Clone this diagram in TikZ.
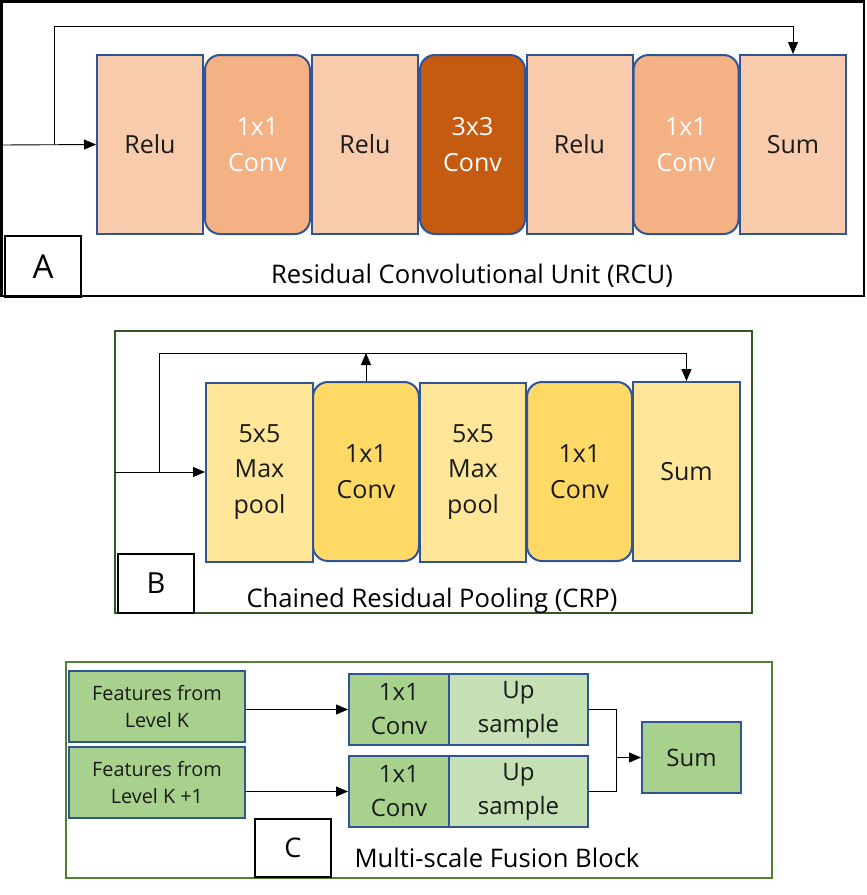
\documentclass[tikz,border=0pt]{standalone}
\usepackage{fontspec}
\setmainfont{Open Sans}
\usetikzlibrary{arrows.meta,calc}
\definecolor{bord}{HTML}{2F5597}
\definecolor{peachL}{HTML}{F8CBAD}
\definecolor{peachM}{HTML}{F4B183}
\definecolor{peachD}{HTML}{C55A11}
\definecolor{yelL}{HTML}{FFE699}
\definecolor{yelM}{HTML}{FFD966}
\definecolor{grnM}{HTML}{A9D18E}
\definecolor{grnL}{HTML}{C5E0B4}
\definecolor{grnB}{HTML}{375623}
\definecolor{grnC}{HTML}{548235}
\definecolor{txt}{HTML}{1A1A1A}
\tikzset{
  blk/.style={draw=bord, line width=2pt, inner sep=0pt, align=center, text=txt,
    font=\fontsize{25}{35.5}\selectfont},
  sq/.style={blk, rectangle},
  rnd/.style={blk, rounded corners=15pt},
  colA/.style={minimum width=105pt, minimum height=179pt},
  colB/.style={minimum width=106pt, minimum height=179pt},
  cbox/.style={blk, minimum height=71pt, font=\fontsize{24}{34}\selectfont},
  arr/.style={draw=black, line width=0.9pt, -{Triangle[length=12pt,width=10pt]}},
  ln/.style={draw=black, line width=0.9pt},
  lbl/.style={draw=black, line width=2pt, inner sep=0pt},
  captext/.style={font=\fontsize{25.6}{30}\selectfont, text=black}
}
\begin{document}
\begin{tikzpicture}[x=1pt,y=-1pt]
\useasboundingbox (0,0) rectangle (867,895);
% ---------- Panel A ----------
\draw[line width=2.6pt, black] (1.5,1.5) rectangle (864,296);
\node[sq, colA, fill=peachL, minimum width=106pt] (ra1) at (150,144.5) {Relu};
\node[rnd, colA, fill=peachM, text=white] (ca1) at (257.5,144.5) {1x1\\Conv};
\node[sq, colA, fill=peachL, minimum width=106pt] (ra2) at (365,144.5) {Relu};
\node[rnd, colA, fill=peachD, text=white] (ca3) at (472.5,144.5) {3x3\\Conv};
\node[sq, colA, fill=peachL, minimum width=106pt] (ra3) at (579.5,144.5) {Relu};
\node[rnd, colA, fill=peachM, text=white] (ca4) at (686,144.5) {1x1\\Conv};
\node[sq, colA, fill=peachL, minimum width=106pt] (sa) at (793,144.5) {Sum};
\coordinate (inA) at (1,145);
\coordinate (brA) at (54,145);
\coordinate (topA) at (54,26);
\draw[arr] (inA) -- (ra1.west);
\draw[arr] (brA) -- (topA) -| (sa.north);
\node[lbl, minimum width=76pt, minimum height=61pt, font=\fontsize{33}{33}\selectfont] (la) at (43,266.5) {A};
\node[captext] (capA) at (472,276) {Residual Convolutional Unit (RCU)};
% ---------- Panel B ----------
\draw[line width=2pt, grnB] (115,331) rectangle (752,613);
\node[sq, colB, fill=yelL, minimum width=107pt] (mb1) at (259.5,472) {5x5\\Max\\pool};
\node[rnd, colB, fill=yelM] (cb1) at (366,471.5) {1x1\\Conv};
\node[sq, colB, fill=yelL] (mb2) at (473,472) {5x5\\Max\\pool};
\node[rnd, colB, fill=yelM, minimum width=105pt] (cb2) at (579.5,471.5) {1x1\\Conv};
\node[sq, colB, fill=yelL, minimum width=107pt] (sb) at (686.5,471.5) {Sum};
\coordinate (inB) at (115,472);
\coordinate (brB) at (159,472);
\coordinate (topB) at (159,353);
\draw[arr] (inB) -- (mb1.west);
\draw[arr] (brB) -- (topB) -| (sb.north);
\draw[arr] (cb1.north) -- (cb1.north |- topB);
\node[lbl, minimum width=76pt, minimum height=59pt, font=\fontsize{29}{29}\selectfont] (lb) at (156,583.5) {B};
\node[captext] (capB) at (432,601) {Chained Residual Pooling (CRP)};
% ---------- Panel C ----------
\draw[line width=2.5pt, grnC] (66,662) rectangle (772,878);
\node[cbox, fill=grnM, minimum width=176pt, font=\fontsize{19.8}{27.5}\selectfont] (fk) at (157,706.5) {Features from\\Level K};
\node[cbox, fill=grnM, minimum width=176pt, font=\fontsize{19.8}{27.5}\selectfont] (fk1) at (157,782.5) {Features from\\Level K +1};
\node[cbox, fill=grnM, minimum width=100pt] (cv1) at (399,709.5) {1x1\\Conv};
\node[cbox, fill=grnL, minimum width=139pt] (up1) at (518.5,709.5) {Up\\sample};
\node[cbox, fill=grnM, minimum width=100pt] (cv2) at (399,791.5) {1x1\\Conv};
\node[cbox, fill=grnL, minimum width=139pt] (up2) at (518.5,791.5) {Up\\sample};
\node[cbox, fill=grnM, minimum width=99pt] (sc) at (691.5,757.5) {Sum};
\coordinate (mC) at (616,757.5);
\draw[arr] (fk.east |- cv1.west) -- (cv1.west);
\draw[arr] (fk1.east |- cv2.west) -- (cv2.west);
\draw[ln] (up1.east) -| (mC);
\draw[ln] (up2.east) -| (mC);
\draw[arr] (mC) -- (sc.west);
\node[lbl, minimum width=76pt, minimum height=58pt, font=\fontsize{27}{27}\selectfont] (lc) at (293,848) {C};
\node[captext] (capC) at (497,858) {Multi-scale Fusion Block};
\end{tikzpicture}
\end{document}
